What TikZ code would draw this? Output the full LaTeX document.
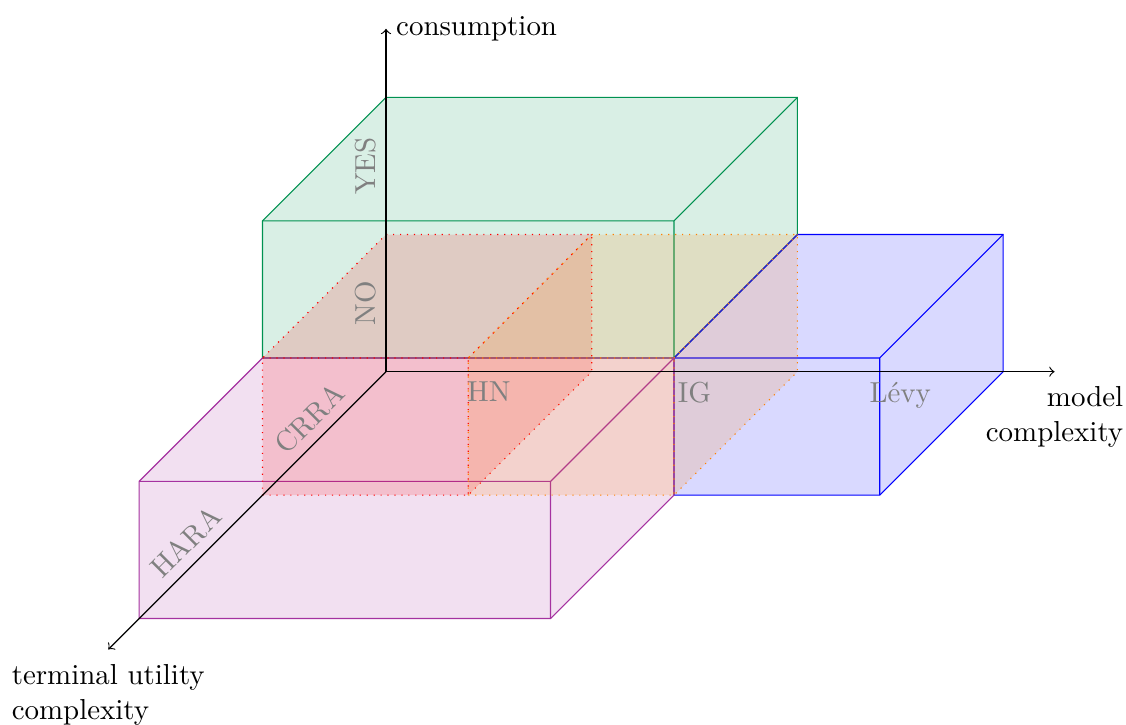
\documentclass[tikz,border=0pt]{standalone}
\usetikzlibrary{positioning}
\definecolor{myteal}{RGB}{0,145,80}
\definecolor{mymagenta}{RGB}{165,50,160}
\colorlet{mygray}{black!50}
\newcommand\slab[5]{
  % only the faces you see (front, top, right); together they fill the outline
  \filldraw[#1] (#2,#4,{#5+1}) -- (#3,#4,{#5+1}) -- (#3,#4,#5) -- (#3,{#4+1},#5)
    -- (#2,{#4+1},#5) -- (#2,{#4+1},{#5+1}) -- cycle;
  % inner edges, all meeting in the front top right corner
  \draw[#1, fill=none] (#2,{#4+1},{#5+1}) -- (#3,{#4+1},{#5+1}) -- (#3,#4,{#5+1})
    (#3,{#4+1},{#5+1}) -- (#3,{#4+1},#5);
}

\begin{document}
\begin{tikzpicture}[
    x=2.5cm, y=1.6667cm, z={(-1.5cm,-1.5cm)},
    slab/.style={fill opacity=0.15},
    slab yes/.style ={slab, draw=myteal,    fill=myteal},
    slab levy/.style={slab, draw=blue,      fill=blue},
    slab hara/.style={slab, draw=mymagenta, fill=mymagenta},
    slab hn/.style  ={slab, draw=red,       fill=red,    dotted},
    slab ig/.style  ={slab, draw=orange,    fill=orange, dotted},
    lbl/.style={text=mygray},
  ]
  \useasboundingbox (-133.47pt,-122.16pt) rectangle (255.88pt,128.53pt);

  % ------------------------------------------------------------------ slabs
  \slab{slab yes}{0}{2}{1}{0}
  \slab{slab levy}{2}{3}{0}{0}
  \slab{slab hara}{0}{2}{0}{1}
  \slab{slab hn}{0}{1}{0}{0}
  \slab{slab ig}{1}{2}{0}{0}

  % ------------------------------------------------------------------ axes
  \coordinate (O) at (0,0,0);
  \coordinate (xend) at (3.25,0,0);
  \coordinate (yend) at (0,2.5,0);
  \coordinate (zend) at (0,0,2.25);

  \draw[->] (O) -- (xend) node[below, yshift=-1.7pt, align=right] (xlab) {model\\complexity};
  \draw[->] (O) -- (yend) node[right] (ylab) {consumption};
  \draw[->] (O) -- (zend) node[below, yshift=-1.7pt, align=left] (zlab) {terminal utility\\complexity};

  % ------------------------------------------------------------------ categories
  \node[lbl, rotate=90, above] (no)  at (0,0.5,0) {NO};
  \node[lbl, rotate=90, above] (yes) at (0,1.5,0) {YES};

  \node[lbl, below] (hn)   at (0.5,0,0) {HN};
  \node[lbl, below] (ig)   at (1.5,0,0) {IG};
  \node[lbl, below] (levy) at (2.5,0,0) {Lévy};

  \node[lbl, rotate=45, above] (crra) at (0,0,0.5) {CRRA};
  \node[lbl, rotate=45, above] (hara) at (0,0,1.5) {HARA};

\end{tikzpicture}
\end{document}
